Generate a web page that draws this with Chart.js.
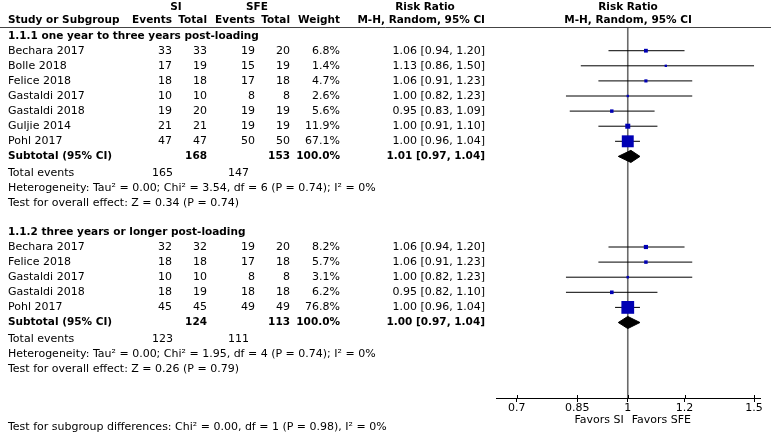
<!DOCTYPE html>
<html>
<head>
<meta charset="utf-8">
<script src="https://cdn.jsdelivr.net/npm/chart.js@4.4.0/dist/chart.umd.min.js"></script>
<style>
  html, body { margin: 0; padding: 0; background: #fff; }
</style>
</head>
<body>
<canvas id="forest" width="771" height="437"></canvas>
<script>
const FONT = '"DejaVu Sans", Verdana, sans-serif';

// axis
const xTicks = [0.7, 0.85, 1, 1.2, 1.5];
const xMin = 0.655;
const xMax = 1.529;

// 1.1.1 one year to three years post-loading
const g1Title = "1.1.1 one year to three years post-loading";
const g1Studies = ["Bechara 2017", "Bolle 2018", "Felice 2018", "Gastaldi 2017", "Gastaldi 2018", "Guljie 2014", "Pohl 2017"];
const g1SiEvents = [33, 17, 18, 10, 19, 21, 47];
const g1SiTotal = [33, 19, 18, 10, 20, 21, 47];
const g1SfeEvents = [19, 15, 17, 8, 19, 19, 50];
const g1SfeTotal = [20, 19, 18, 8, 19, 19, 50];
const g1Weight = [6.8, 1.4, 4.7, 2.6, 5.6, 11.9, 67.1];
const g1RR = [1.06, 1.13, 1.06, 1.00, 0.95, 1.00, 1.00];
const g1Lo = [0.94, 0.86, 0.91, 0.82, 0.83, 0.91, 0.96];
const g1Hi = [1.20, 1.50, 1.23, 1.23, 1.09, 1.10, 1.04];
const g1SubTotals = [168, 153];
const g1SubRR = [1.01, 0.97, 1.04];
const g1TotalEvents = [165, 147];
const g1Het = "Heterogeneity: Tau\u00b2 = 0.00; Chi\u00b2 = 3.54, df = 6 (P = 0.74); I\u00b2 = 0%";
const g1Overall = "Test for overall effect: Z = 0.34 (P = 0.74)";

// 1.1.2 three years or longer post-loading
const g2Title = "1.1.2 three years or longer post-loading";
const g2Studies = ["Bechara 2017", "Felice 2018", "Gastaldi 2017", "Gastaldi 2018", "Pohl 2017"];
const g2SiEvents = [32, 18, 10, 18, 45];
const g2SiTotal = [32, 18, 10, 19, 45];
const g2SfeEvents = [19, 17, 8, 18, 49];
const g2SfeTotal = [20, 18, 8, 18, 49];
const g2Weight = [8.2, 5.7, 3.1, 6.2, 76.8];
const g2RR = [1.06, 1.06, 1.00, 0.95, 1.00];
const g2Lo = [0.94, 0.91, 0.82, 0.82, 0.96];
const g2Hi = [1.20, 1.23, 1.23, 1.10, 1.04];
const g2SubTotals = [124, 113];
const g2SubRR = [1.00, 0.97, 1.04];
const g2TotalEvents = [123, 111];
const g2Het = "Heterogeneity: Tau\u00b2 = 0.00; Chi\u00b2 = 1.95, df = 4 (P = 0.74); I\u00b2 = 0%";
const g2Overall = "Test for overall effect: Z = 0.26 (P = 0.79)";

const subgroupTest = "Test for subgroup differences: Chi\u00b2 = 0.00, df = 1 (P = 0.98), I\u00b2 = 0%";

// row layout (in row units, one row = one study line)
const g1Start = 0;
const g2Start = 13;
const rowTop = -1.57;
const rowAxis = 23;

// table column right edges
const LEFT = 8;
const colE1 = 172, colN1 = 207, colE2 = 255, colN2 = 290, colW = 340, colRR = 485;

const fmt = v => v.toFixed(2);
const ciText = (r, l, h) => fmt(r) + " [" + fmt(l) + ", " + fmt(h) + "]";

const datasets = [];
datasets.push({
  data: [{ x: 1, y: rowTop }, { x: 1, y: rowAxis }],
  showLine: true, borderColor: "#6a6a6a", borderWidth: 1.6, pointRadius: 0, order: 5
});

function addGroup(start, rr, lo, hi, weight, sub) {
  rr.forEach((v, i) => {
    datasets.push({
      data: [{ x: lo[i], y: start + i }, { x: hi[i], y: start + i }],
      showLine: true, borderColor: "#000", borderWidth: 1, pointRadius: 0, order: 4
    });
  });
  datasets.push({
    data: rr.map((v, i) => ({ x: v, y: start + i })),
    pointStyle: "rect",
    pointRadius: weight.map(w => Math.max(1.7, Math.sqrt(w) * 1.03)),
    backgroundColor: "#0000b4", borderColor: "#0000b4", borderWidth: 0,
    order: 3
  });
  const ys = start + rr.length;
  datasets.push({
    data: [
      { x: sub[1], y: ys }, { x: sub[0], y: ys - 0.4 },
      { x: sub[2], y: ys }, { x: sub[0], y: ys + 0.4 }, { x: sub[1], y: ys }
    ],
    showLine: true, fill: "shape", tension: 0,
    backgroundColor: "#000", borderColor: "#000", borderWidth: 1, pointRadius: 0, order: 2
  });
}
addGroup(g1Start, g1RR, g1Lo, g1Hi, g1Weight, g1SubRR);
addGroup(g2Start, g2RR, g2Lo, g2Hi, g2Weight, g2SubRR);

function put(ctx, s, x, y, align, bold) {
  ctx.font = bold ? "bold 10.5px " + FONT : "11px " + FONT;
  ctx.textAlign = align;
  ctx.fillText(s, x, y);
}

function drawGroup(ctx, ys, start, title, names, e1, n1, e2, n2, w, rr, lo, hi, subN, subRR, tot, het, overall) {
  put(ctx, title, LEFT, ys(start - 0.95), "left", true);
  names.forEach((nm, i) => {
    const y = ys(start + i);
    put(ctx, nm, LEFT, y, "left");
    put(ctx, String(e1[i]), colE1, y, "right");
    put(ctx, String(n1[i]), colN1, y, "right");
    put(ctx, String(e2[i]), colE2, y, "right");
    put(ctx, String(n2[i]), colN2, y, "right");
    put(ctx, w[i].toFixed(1) + "%", colW, y, "right");
    put(ctx, ciText(rr[i], lo[i], hi[i]), colRR, y, "right");
  });
  const sr = start + names.length;
  let y = ys(sr);
  put(ctx, "Subtotal (95% CI)", LEFT, y, "left", true);
  put(ctx, String(subN[0]), colN1, y, "right", true);
  put(ctx, String(subN[1]), colN2, y, "right", true);
  put(ctx, "100.0%", colW, y, "right", true);
  put(ctx, ciText(subRR[0], subRR[1], subRR[2]), colRR, y, "right", true);
  y = ys(sr + 1.12);
  put(ctx, "Total events", LEFT, y, "left");
  put(ctx, String(tot[0]), colE1 + 1, y, "right");
  put(ctx, String(tot[1]), colE2 - 6, y, "right");
  put(ctx, het, LEFT, ys(sr + 2.12), "left");
  put(ctx, overall, LEFT, ys(sr + 3.1), "left");
}

const tablePlugin = {
  id: "table",
  beforeDraw(chart) {
    const ctx = chart.ctx;
    ctx.save();
    ctx.fillStyle = "#fff";
    ctx.fillRect(0, 0, chart.width, chart.height);
    ctx.restore();
  },
  afterDraw(chart) {
    const ctx = chart.ctx;
    const ys = v => chart.scales.y.getPixelForValue(v);
    const xs = chart.scales.x;
    const area = chart.chartArea;
    const mid = (area.left + area.right) / 2;
    ctx.save();
    ctx.fillStyle = "#000";
    ctx.textBaseline = "middle";

    // headers
    put(ctx, "SI", 176, 7, "center", true);
    put(ctx, "SFE", 257, 7, "center", true);
    put(ctx, "Risk Ratio", 425, 7, "center", true);
    put(ctx, "Risk Ratio", mid, 7, "center", true);
    put(ctx, "Study or Subgroup", LEFT, 20, "left", true);
    put(ctx, "Events", colE1, 20, "right", true);
    put(ctx, "Total", colN1, 20, "right", true);
    put(ctx, "Events", colE2, 20, "right", true);
    put(ctx, "Total", colN2, 20, "right", true);
    put(ctx, "Weight", colW, 20, "right", true);
    put(ctx, "M-H, Random, 95% CI", colRR, 20, "right", true);
    put(ctx, "M-H, Random, 95% CI", mid, 20, "center", true);

    ctx.strokeStyle = "#444";
    ctx.lineWidth = 1;
    ctx.beginPath();
    ctx.moveTo(0, area.top + 0.5);
    ctx.lineTo(chart.width, area.top + 0.5);
    ctx.stroke();

    drawGroup(ctx, ys, g1Start, g1Title, g1Studies, g1SiEvents, g1SiTotal, g1SfeEvents, g1SfeTotal,
      g1Weight, g1RR, g1Lo, g1Hi, g1SubTotals, g1SubRR, g1TotalEvents, g1Het, g1Overall);
    drawGroup(ctx, ys, g2Start, g2Title, g2Studies, g2SiEvents, g2SiTotal, g2SfeEvents, g2SfeTotal,
      g2Weight, g2RR, g2Lo, g2Hi, g2SubTotals, g2SubRR, g2TotalEvents, g2Het, g2Overall);

    put(ctx, subgroupTest, LEFT, ys(24.92), "left");

    // ticks poke above the axis line
    ctx.strokeStyle = "#000";
    ctx.beginPath();
    xTicks.forEach(v => {
      const px = Math.round(xs.getPixelForValue(v)) + 0.5;
      ctx.moveTo(px, area.bottom - 3);
      ctx.lineTo(px, area.bottom);
    });
    ctx.stroke();

    const fy = area.bottom + 22;
    put(ctx, "Favors SI", xs.getPixelForValue(1) - 4, fy, "right");
    put(ctx, "Favors SFE", xs.getPixelForValue(1) + 4, fy, "left");
    ctx.restore();
  }
};

new Chart(document.getElementById("forest"), {
  type: "scatter",
  data: { datasets },
  options: {
    responsive: false,
    animation: false,
    layout: { padding: { left: 496, right: 11, top: 27, bottom: 17 } },
    plugins: { legend: { display: false }, tooltip: { enabled: false } },
    scales: {
      x: {
        type: "logarithmic",
        min: xMin,
        max: xMax,
        afterBuildTicks: s => { s.ticks = xTicks.map(v => ({ value: v })); },
        afterFit: s => { s.height = 22; },
        ticks: {
          callback: v => String(v),
          autoSkip: false, maxRotation: 0, padding: 0,
          color: "#000", font: { family: FONT, size: 11 }
        },
        grid: { drawOnChartArea: false, drawTicks: true, tickLength: 4, color: "#000" },
        border: { display: true, color: "#000", width: 1 }
      },
      y: {
        type: "linear",
        display: false,
        reverse: true,
        min: rowTop,
        max: rowAxis
      }
    }
  },
  plugins: [tablePlugin]
});
</script>
</body>
</html>
